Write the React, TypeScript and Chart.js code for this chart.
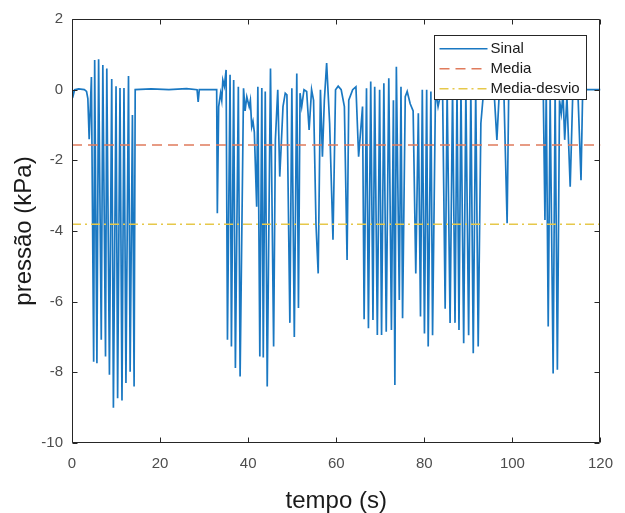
import React, { useEffect, useRef } from "react";
import { Chart, registerables } from "chart.js";

Chart.register(...registerables);

// ---- data ----
const timeS = [
  0.0, 0.3, 0.6, 1.5, 2.8, 3.3, 3.6, 3.9, 4.41, 4.92, 5.15, 5.66, 6.04, 6.65, 7.0, 7.61, 7.9, 8.5, 9.02, 9.4,
  10.0, 10.36, 10.9, 11.35, 11.8, 12.25, 12.83, 13.2, 13.72, 14.1, 14.35, 18, 22, 26, 28.4, 28.65, 28.9, 32.85,
  33.0, 33.3, 33.74, 34.0, 34.25, 34.6, 34.99, 35.3, 35.89, 36.2, 36.71, 37.1, 37.77, 38.17, 38.95, 39.3, 39.69,
  40.23, 40.5, 40.81, 41.1, 41.4, 41.93, 42.2, 42.65, 43.1, 43.43, 43.88, 44.33, 45.07, 45.78, 46.18, 46.72,
  47.17, 47.46, 47.91, 48.42, 48.8, 49.47, 49.92, 50.48, 51.04, 51.42, 51.78, 52.16, 52.68, 53.28, 53.84, 54.4,
  54.85, 55.4, 55.9, 56.41, 56.86, 57.3, 57.82, 58.5, 59.26, 59.84, 60.44, 61.12, 61.85, 62.46, 62.84, 63.73,
  64.47, 65.08, 65.97, 66.33, 66.87, 67.31, 67.83, 68.34, 68.73, 69.33, 69.85, 70.29, 70.81, 71.35, 71.93,
  72.53, 72.98, 73.31, 73.65, 74.32, 74.7, 75.06, 75.67, 76.11, 76.79, 77.46, 78.06, 78.64, 79.13, 79.54,
  80.03, 80.53, 80.88, 81.49, 81.87, 82.54, 83.12, 83.73, 84.17, 84.73, 85.18, 85.85, 86.41, 86.97, 87.42,
  87.87, 88.32, 88.94, 89.43, 90.06, 90.56, 91.11, 91.67, 92.23, 92.84, 93.42, 94.02, 95.81, 96.48, 96.93,
  97.38, 98.05, 98.8, 99.17, 106.56, 107.0, 107.39, 107.68, 108.13, 108.57, 109.25, 109.7, 110.21, 110.7,
  111.1, 111.49, 111.87, 112.38, 113.12, 113.73, 114.4, 114.85, 115.58, 115.96, 120,
];

const pressure = [
  0.0, -0.15, 0.0, 0.02, 0.0, -0.05, -0.25, -1.4, 0.36, -7.7, 0.84, -7.74, 0.86, -7.08, 0.7, -7.55, 0.6, -8.07, 0.3, -9.0,
  0.1, -8.73, 0.05, -8.8, 0.05, -8.3, 0.39, -7.98, -0.72, -8.4, 0.0, 0.02, 0.0, 0.03, 0.0, -0.35, 0.0, 0.0,
  -3.5, -0.48, -0.1, -0.3, 0.27, 0.1, 0.56, -7.08, 0.42, -7.27, 0.27, -7.88, 0.08, -8.12, 0.04, -0.6, -0.2,
  -0.48, -0.3, -1.05, -0.9, -1.2, -3.31, 0.08, -7.55, 0.05, -7.58, -0.05, -8.4, 0.6, -7.27, -1.42, 0.0,
  -2.46, -1.7, -0.48, -0.1, -0.15, -6.6, 0.04, -7.0, 0.46, -6.18, -0.1, -0.48, 0.0, -0.05, -1.14, 0.0,
  -0.3, -3.8, -5.2, 0.0, -1.9, -0.3, 0.75, -0.95, -4.25, 0.0, 0.1, 0.0, -0.48, -4.82, -0.3, 0.0,
  0.08, -1.9, -0.48, -6.5, 0.04, -6.75, 0.23, -6.52, 0.08, -6.94, 0.0, -6.94, 0.18, -6.85, 0.32,
  -6.8, -0.3, -8.36, 0.65, -5.95, 0.08, -6.47, -0.2, -0.05, -0.4, -0.6, -5.2, -0.67, -6.42, 0.0,
  -6.9, 0.0, -7.27, -0.05, -6.95, 0.0, -0.48, -0.1, -0.3, -6.2, 0.0, -6.6, 0.0, -6.6, 0.0,
  -6.8, 0.0, -7.18, 0.0, -6.95, 0.0, -7.46, 0.0, -7.27, -0.95, -0.1, 0.0, 0.0, -1.42, -0.3,
  0.0, 0.0, -3.78, 0.0, 0.0, 0.0, -3.69, 0.0, -6.7, -0.2, -8.03, 0.0, -7.93, -0.3,
  -0.67, -0.1, -1.42, -0.2, -2.75, 0.0, -0.2, 0.0, -2.56, 0.0, 0.0,
];

const mediaValue = -1.565;
const mediaDesvioValue = -3.81;
const xLimits = [0, 120];
const yLimits = [-10, 2];
const xTicks = [0, 20, 40, 60, 80, 100, 120];
const yTicks = [-10, -8, -6, -4, -2, 0, 2];
const seriesLabels = ["Sinal", "Media", "Media-desvio"];
const xTitle = "tempo (s)";
const yTitle = "pressão (kPa)";

const FONT = "'Liberation Sans', Arial, Helvetica, sans-serif";
const AXIS_COLOR = "#262626";

const boxPlugin = {
  id: "matlabBox",
  afterDatasetsDraw(chart: any) {
    const { ctx, chartArea, scales } = chart;
    const l = Math.round(chartArea.left) + 0.5;
    const r = Math.round(chartArea.right) - 0.5;
    const t = Math.round(chartArea.top) + 0.5;
    const b = Math.round(chartArea.bottom) - 0.5;
    const tl = 5;
    ctx.save();
    ctx.strokeStyle = AXIS_COLOR;
    ctx.lineWidth = 1;
    ctx.beginPath();
    ctx.rect(l, t, r - l, b - t);
    xTicks.forEach((v) => {
      const px = Math.round(scales.x.getPixelForValue(v)) + 0.5;
      ctx.moveTo(px, b);
      ctx.lineTo(px, b - tl);
      ctx.moveTo(px, t);
      ctx.lineTo(px, t + tl);
    });
    yTicks.forEach((v) => {
      const py = Math.round(scales.y.getPixelForValue(v)) + 0.5;
      ctx.moveTo(l, py);
      ctx.lineTo(l + tl, py);
      ctx.moveTo(r, py);
      ctx.lineTo(r - tl, py);
    });
    ctx.stroke();
    ctx.restore();
  },
};

const legendPlugin = {
  id: "matlabLegend",
  afterDraw(chart: any) {
    const { ctx, chartArea } = chart;
    const w = 152;
    const h = 64;
    const x0 = Math.round(chartArea.right - 14.7 - w) + 0.5;
    const y0 = Math.round(chartArea.top + 16) + 0.5;
    ctx.save();
    ctx.fillStyle = "#ffffff";
    ctx.fillRect(x0, y0, w, h);
    ctx.strokeStyle = AXIS_COLOR;
    ctx.lineWidth = 1;
    ctx.strokeRect(x0, y0, w, h);
    const rowY = [13.3, 33.3, 53.3];
    chart.data.datasets.forEach((ds: any, i: number) => {
      const y = y0 + rowY[i];
      ctx.beginPath();
      ctx.setLineDash(ds.borderDash || []);
      ctx.strokeStyle = ds.borderColor;
      ctx.lineWidth = Math.min(ds.borderWidth, 1.4);
      ctx.moveTo(x0 + 5, y);
      ctx.lineTo(x0 + 53, y);
      ctx.stroke();
      ctx.setLineDash([]);
      ctx.fillStyle = "#1a1a1a";
      ctx.font = `15px ${FONT}`;
      ctx.textBaseline = "middle";
      ctx.textAlign = "left";
      ctx.fillText(ds.label, x0 + 56, y + 0.5);
    });
    ctx.restore();
  },
};

export default function App() {
  const canvasRef = useRef<HTMLCanvasElement | null>(null);

  useEffect(() => {
    if (!canvasRef.current) return;
    const signal = timeS.map((t, i) => ({ x: t, y: pressure[i] }));
    const chart = new Chart(canvasRef.current, {
      type: "line",
      data: {
        datasets: [
          {
            label: seriesLabels[0],
            data: signal,
            borderColor: "#1A78C2",
            borderWidth: 1.7,
            pointRadius: 0,
            tension: 0,
            order: 3,
          },
          {
            label: seriesLabels[1],
            data: xLimits.map((x) => ({ x, y: mediaValue })),
            borderColor: "#E07B5C",
            borderWidth: 1.5,
            borderDash: [10, 6],
            pointRadius: 0,
            order: 2,
          },
          {
            label: seriesLabels[2],
            data: xLimits.map((x) => ({ x, y: mediaDesvioValue })),
            borderColor: "#E6C84A",
            borderWidth: 1.5,
            borderDash: [9, 4, 2, 4],
            pointRadius: 0,
            order: 1,
          },
        ],
      },
      options: {
        responsive: false,
        animation: false,
        events: [],
        layout: { padding: { top: 19, right: 17, left: 0, bottom: 0 }, autoPadding: false } as any,
        plugins: { legend: { display: false }, tooltip: { enabled: false } },
        scales: {
          x: {
            type: "linear",
            min: xLimits[0],
            max: xLimits[1],
            grid: { display: false, drawTicks: false },
            border: { display: false },
            afterBuildTicks: (s: any) => {
              s.ticks = xTicks.map((v) => ({ value: v }));
            },
            afterFit: (s: any) => {
              s.height = 70;
            },
            ticks: {
              color: "#4d4d4d",
              font: { family: FONT, size: 15 },
              padding: 12,
              maxRotation: 0,
              autoSkip: false,
            },
            title: {
              display: true,
              text: xTitle,
              color: "#1a1a1a",
              font: { family: FONT, size: 24, lineHeight: 1 },
              padding: { top: 0, bottom: 0 },
            },
          },
          y: {
            type: "linear",
            min: yLimits[0],
            max: yLimits[1],
            grid: { display: false, drawTicks: false },
            border: { display: false },
            afterBuildTicks: (s: any) => {
              s.ticks = yTicks.map((v) => ({ value: v }));
            },
            afterFit: (s: any) => {
              s.width = 72;
            },
            ticks: {
              color: "#4d4d4d",
              font: { family: FONT, size: 15 },
              padding: 9,
              autoSkip: false,
            },
            title: {
              display: true,
              text: yTitle,
              color: "#1a1a1a",
              font: { family: FONT, size: 24, lineHeight: 1 },
              padding: { top: 12, bottom: 0 },
            },
          },
        },
      },
      plugins: [boxPlugin, legendPlugin],
    });
    return () => chart.destroy();
  }, []);

  return (
    <div style={{ position: "absolute", left: 0, top: 0, width: 625, height: 513, background: "#fff" }}>
      <canvas ref={canvasRef} width={625} height={513} style={{ display: "block" }} />
    </div>
  );
}
